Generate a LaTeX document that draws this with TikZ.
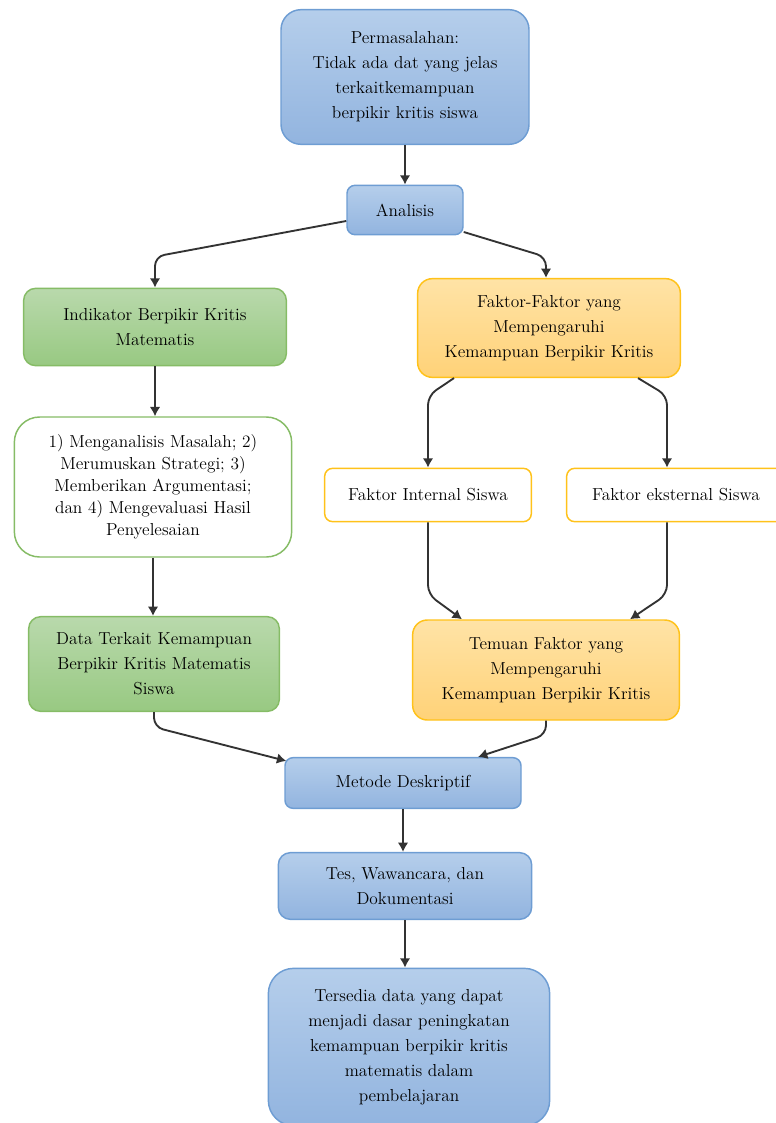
\documentclass[tikz,border=0pt]{standalone}
\usepackage{tikz}
\usetikzlibrary{calc,positioning,arrows.meta}
\definecolor{bluetop}{HTML}{B5CEEB}
\definecolor{bluebot}{HTML}{92B4DF}
\definecolor{blueline}{HTML}{6E9DD3}
\definecolor{greentop}{HTML}{B9D9AC}
\definecolor{greenbot}{HTML}{98C982}
\definecolor{greenline}{HTML}{86BC66}
\definecolor{orangetop}{HTML}{FFE3A6}
\definecolor{orangebot}{HTML}{FFD278}
\definecolor{orangeline}{HTML}{FFC21A}
\definecolor{arrowgray}{HTML}{333333}

\begin{document}
\begin{tikzpicture}[x=0.75pt,y=-0.75pt,
	box/.style={draw,align=center,inner sep=0pt,line width=1.1pt,font=\fontsize{13}{18.75}\selectfont},
	bluebox/.style={box,draw=blueline,top color=bluetop,bottom color=bluebot},
	greenbox/.style={box,draw=greenline,top color=greentop,bottom color=greenbot},
	orangebox/.style={box,draw=orangeline,top color=orangetop,bottom color=orangebot},
	plainbox/.style={box,fill=white},
	conn/.style={-{Latex[length=7pt,width=8pt]},line width=1.4pt,draw=arrowgray,rounded corners=7pt}]
	\useasboundingbox (0,0) rectangle (775,1123);
	% top part
	\node[bluebox,rounded corners=15pt,minimum width=186pt,minimum height=101pt] (perm) at (405,77) {Permasalahan:\\Tidak ada dat yang jelas\\terkaitkemampuan\\berpikir kritis siswa};
	\node[bluebox,rounded corners=6pt,minimum width=87pt,minimum height=37pt] (ana) at (405,210) {Analisis};
	% left branch
	\node[greenbox,rounded corners=9pt,minimum width=197pt,minimum height=58pt] (ind) at (155,327) {Indikator Berpikir Kritis\\Matematis};
	\node[plainbox,draw=greenline,rounded corners=19pt,minimum width=208pt,minimum height=105pt,font=\fontsize{13}{16.5}\selectfont] (list) at (153,487) {1) Menganalisis Masalah; 2)\\Merumuskan Strategi; 3)\\Memberikan Argumentasi;\\dan 4) Mengevaluasi Hasil\\Penyelesaian};
	\node[greenbox,rounded corners=9pt,minimum width=188pt,minimum height=71pt] (data) at (154,664) {Data Terkait Kemampuan\\Berpikir Kritis Matematis\\Siswa};
	% right branch
	\node[orangebox,rounded corners=11pt,minimum width=197pt,minimum height=74pt] (fak) at (549,328) {Faktor-Faktor yang\\Mempengaruhi\\Kemampuan Berpikir Kritis};
	\node[plainbox,draw=orangeline,rounded corners=6pt,minimum width=155pt,minimum height=40pt] (intern) at (428,495) {Faktor Internal Siswa};
	\node[plainbox,draw=orangeline,rounded corners=6pt,minimum width=164pt,minimum height=40pt] (ekst) at (676,495) {Faktor eksternal Siswa};
	\node[orangebox,rounded corners=11pt,minimum width=200pt,minimum height=75pt] (tem) at (546,670) {Temuan Faktor yang\\Mempengaruhi\\Kemampuan Berpikir Kritis};
	% bottom part
	\node[bluebox,rounded corners=6pt,minimum width=177pt,minimum height=38pt] (met) at (403,783) {Metode Deskriptif};
	\node[bluebox,rounded corners=9pt,minimum width=190pt,minimum height=50pt] (tes) at (405,886) {Tes, Wawancara, dan\\Dokumentasi};
	\node[bluebox,rounded corners=19pt,minimum width=211pt,minimum height=118pt] (ters) at (409,1047) {Tersedia data yang dapat\\menjadi dasar peningkatan\\kemampuan berpikir kritis\\matematis dalam\\pembelajaran};
	% arrows
	\draw[conn] (perm.south) -- (perm.south |- ana.north);
	\draw[conn] ($(ana.west)+(0,11)$) -- ($(ind.north)+(0,-31)$) -- (ind.north);
	\draw[conn] ($(ana.east)+(0,22)$) -- ($(fak.north)+(-3,-21)$) -- ($(fak.north)+(-3,0)$);
	\draw[conn] (ind.south) -- (ind.south |- list.north);
	\draw[conn] (list.south) -- (list.south |- data.north);
	\draw[conn] ($(fak.south)+(-95,0)$) -- ($(intern.north)+(0,-72)$) -- (intern.north);
	\draw[conn] ($(fak.south)+(89,0)$) -- ($(ekst.north)+(-9,-72)$) -- ($(ekst.north)+(-9,0)$);
	\draw[conn] (intern.south) -- ($(intern.south)+(0,72)$) -- ($(tem.north)+(-84,0)$);
	\draw[conn] ($(ekst.south)+(-9,0)$) -- ($(ekst.south)+(-9,72)$) -- ($(tem.north)+(84,0)$);
	\draw[conn] (data.south) -- ($(data.south)+(0,15)$) -- ($(met.north west)+(2,4)$);
	\draw[conn] (tem.south) -- ($(tem.south)+(0,14)$) -- ($(met.north)+(75,0)$);
	\draw[conn] (met.south) -- (met.south |- tes.north);
	\draw[conn] (tes.south) -- (tes.south |- ters.north);
\end{tikzpicture}
\end{document}
